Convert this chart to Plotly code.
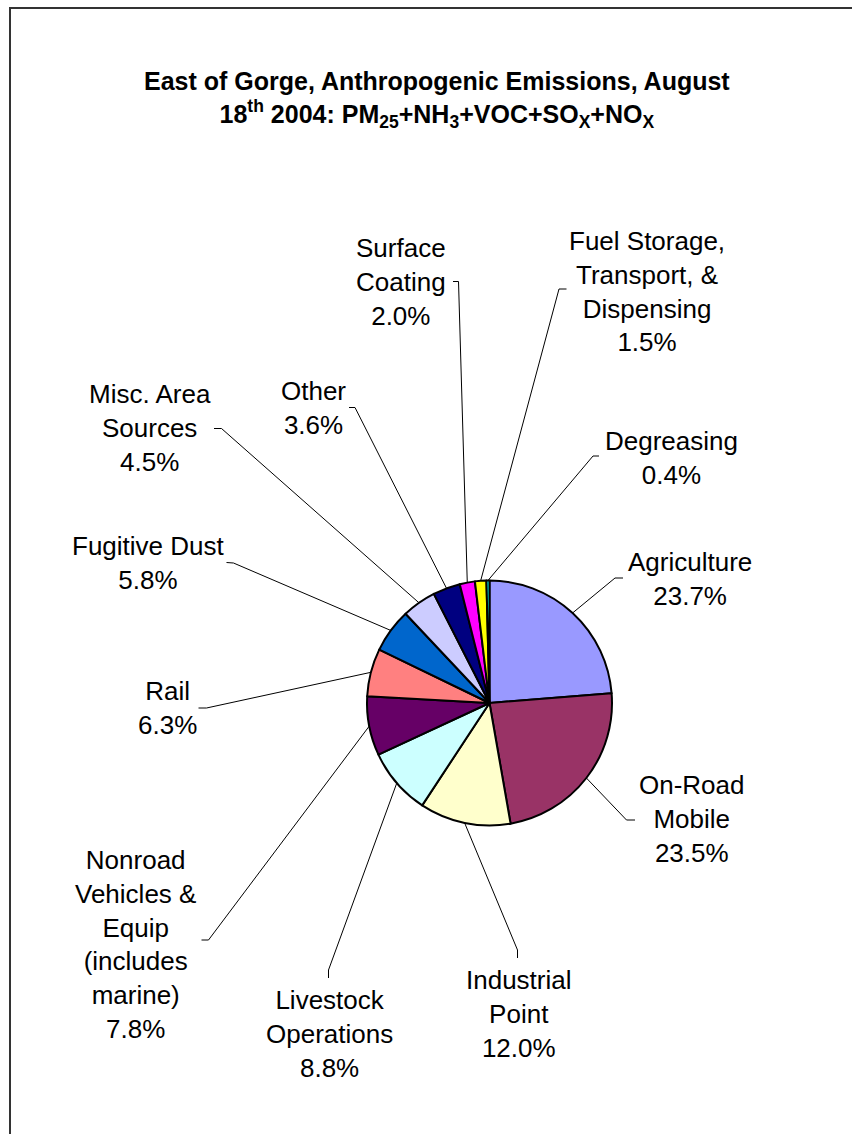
import math
import plotly.graph_objects as go

# ---------------- data ----------------
categories = ["Agriculture", "On-Road Mobile", "Industrial Point", "Livestock Operations",
              "Nonroad Vehicles & Equip (includes marine)", "Rail", "Fugitive Dust",
              "Misc. Area Sources", "Other", "Surface Coating",
              "Fuel Storage, Transport, & Dispensing", "Degreasing"]
values = [23.7, 23.5, 12.0, 8.8, 7.8, 6.3, 5.8, 4.5, 3.6, 2.0, 1.5, 0.4]
label_names = ["Agriculture", "On-Road<br>Mobile", "Industrial<br>Point", "Livestock<br>Operations",
               "Nonroad<br>Vehicles &<br>Equip<br>(includes<br>marine)", "Rail", "Fugitive Dust",
               "Misc. Area<br>Sources", "Other", "Surface<br>Coating",
               "Fuel Storage,<br>Transport, &<br>Dispensing", "Degreasing"]

# ---------------- styles / layout ----------------
colors = ["#9999FF", "#993366", "#FFFFCC", "#CCFFFF", "#660066", "#FF8080",
          "#0066CC", "#CCCCFF", "#000080", "#FF00FF", "#FFFF00", "#00FFFF"]
W, H = 852, 1134
CX, CY, R = 489.5, 703.0, 122.5
FONT = "Liberation Sans, Arial, sans-serif"
# label block centres (px) and leader start / elbow points (px)
label_pos = [(690, 579), (692, 819), (519, 1014), (329, 1034), (135, 944), (167, 708),
             (147.5, 563), (150, 428), (313, 407.5), (401, 282), (647, 291.5), (671, 457.5)]
leader_start = [(623, 578), (635, 820), (517.5, 958), (328.5, 978), (201.5, 940), (198.5, 708),
                (226.5, 562.5), (214, 428.5), (349, 407.5), (453, 281.5), (566.5, 289), (599, 456)]
leader_elbow = [(615, 578), (626.5, 820), (517.5, 950), (328.5, 970), (208.5, 940), (206.5, 708),
                (233.5, 563), (221.5, 428.5), (355, 407.5), (458.5, 281.5), (559, 289), (593, 456)]


def px(x, y):
    return x / W, 1 - y / H


fig = go.Figure()
fig.add_trace(go.Pie(
    labels=categories, values=values, sort=False, direction="clockwise", rotation=0,
    textinfo="none", hoverinfo="label+percent",
    marker=dict(colors=colors, line=dict(color="black", width=2)),
    domain=dict(x=[(CX - R) / W, (CX + R) / W], y=[(H - CY - R) / H, (H - CY + R) / H]),
    showlegend=False,
))

total = sum(values)
shapes = []
annotations = []
cum = 0.0
for i, v in enumerate(values):
    mid = (cum + v / 2) / total
    cum += v
    th = 2 * math.pi * mid
    ex, ey = CX + R * math.sin(th), CY - R * math.cos(th)
    sx, sy = leader_start[i]
    bx, by = leader_elbow[i]
    p = [px(sx, sy), px(bx, by), px(ex, ey)]
    path = "M {} {} L {} {} L {} {}".format(p[0][0], p[0][1], p[1][0], p[1][1], p[2][0], p[2][1])
    shapes.append(dict(type="path", xref="paper", yref="paper", path=path,
                       line=dict(color="black", width=1), layer="below"))
    lx, ly = px(*label_pos[i])
    annotations.append(dict(x=lx, y=ly, xref="paper", yref="paper", showarrow=False,
                            xanchor="center", yanchor="middle", align="center",
                            text="{}<br>{:.1f}%".format(label_names[i], v),
                            font=dict(family=FONT, size=26, color="black")))

title_text = ("<b>East of Gorge, Anthropogenic Emissions, August<br>"
              "18<sup>th</sup> 2004: PM<sub>25</sub>+NH<sub>3</sub>+VOC+SO<sub>X</sub>+NO<sub>X</sub></b>")
tx, ty = px(437, 99)
annotations.append(dict(x=tx, y=ty, xref="paper", yref="paper", showarrow=False,
                        xanchor="center", yanchor="middle", align="center",
                        text=title_text, font=dict(family=FONT, size=25, color="black")))

# chart-area border (extends beyond right / bottom edges)
bx0, by0 = px(10, 8)
shapes.append(dict(type="rect", xref="paper", yref="paper", x0=bx0, y0=-0.05, x1=1.05, y1=by0,
                   line=dict(color="#333333", width=2)))

fig.update_layout(
    width=W, height=H, margin=dict(l=0, r=0, t=0, b=0),
    paper_bgcolor="white", plot_bgcolor="white",
    shapes=shapes, annotations=annotations,
)
fig.write_html("out.html", config={"displayModeBar": False},
               post_script="document.body.style.margin='0';")
